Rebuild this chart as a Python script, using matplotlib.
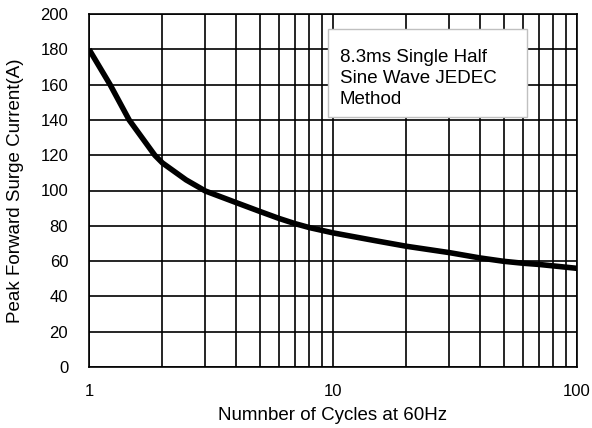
import numpy as np
import matplotlib
matplotlib.use("Agg")
from matplotlib import pyplot as plt
from matplotlib.patches import Rectangle

# curve
cycles = [1, 1.22, 1.46, 1.86, 2, 2.5, 3, 4, 5, 6, 7, 8, 10, 15, 20, 30, 40, 50, 60, 70, 100]
current = [180, 160, 140, 120, 115.6, 106, 99.7, 93.2, 88.2, 84.2, 81.2, 79, 76, 71.5, 68.4,
           64.8, 61.8, 59.9, 58.8, 58.1, 55.9]

yticks = [0, 20, 40, 60, 80, 100, 120, 140, 160, 180, 200]
xticks = [1, 10, 100]
xticklabels = ['1', '10', '100']

plt.rcParams['font.family'] = ['Liberation Sans', 'DejaVu Sans']

fig = plt.figure(figsize=(5.92, 4.28), dpi=100)
ax = fig.add_axes([89 / 592, 1 - 367 / 428, 488 / 592, 353 / 428])

ax.plot(cycles, current, color='black', lw=4, solid_capstyle='butt',
        solid_joinstyle='round', zorder=3)

ax.set_xscale('log')
ax.set_xlim(1, 100)
ax.set_ylim(0, 200)
ax.set_yticks(yticks)
ax.set_xticks(xticks)
ax.set_xticklabels(xticklabels)
ax.yaxis.set_minor_locator(matplotlib.ticker.NullLocator())
ax.xaxis.set_minor_locator(matplotlib.ticker.LogLocator(base=10, subs=np.arange(2, 10)))
ax.xaxis.set_minor_formatter(matplotlib.ticker.NullFormatter())
ax.grid(True, which='both', color='black', lw=1.2)
ax.tick_params(which='both', length=0, labelsize=12, pad=12)
ax.tick_params(axis='y', pad=15)
for s in ax.spines.values():
    s.set_linewidth(1.2)

ax.set_xlabel('Numnber of Cycles at 60Hz', fontsize=13.5, labelpad=6)
ax.set_ylabel('Peak Forward Surge Current(A)', fontsize=13.5, labelpad=12)

# note box
ax.add_patch(Rectangle((0.490, 0.708), 0.4075, 0.2495, transform=ax.transAxes,
                       fc='white', ec='#c0c0c0', lw=1, zorder=4))
ax.text(0.514, 0.90, '8.3ms Single Half\nSine Wave JEDEC\nMethod', transform=ax.transAxes,
        fontsize=13.5, va='top', ha='left', linespacing=1.3, zorder=5)

fig.savefig('out.png', dpi=100)
